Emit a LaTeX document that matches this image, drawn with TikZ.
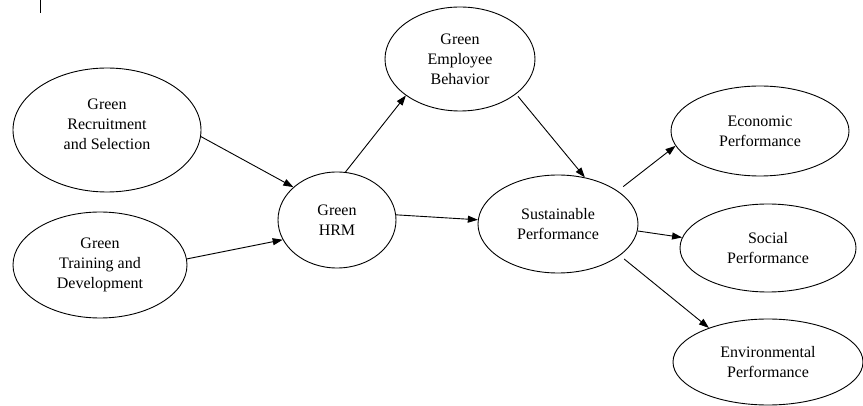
\documentclass[tikz,border=0pt]{standalone}
\usepackage{fontspec}
\setmainfont{Liberation Serif}
\usetikzlibrary{shapes.geometric,arrows.meta}
\begin{document}
\begin{tikzpicture}[x=1pt,y=-1pt,
  oval/.style={ellipse,draw,line width=0.9pt,inner sep=0pt,align=center,
    font=\fontsize{16}{20}\selectfont},
  txt/.style={inner sep=0pt,align=center,font=\fontsize{16}{20}\selectfont},
  link/.style={-{Triangle[length=10pt,width=7pt]},line width=0.9pt}]
\useasboundingbox (0,0) rectangle (863,406);
\node[oval,minimum width=188pt,minimum height=124pt] (grs) at (107,130) {};
\node[txt] (grstext) at (107,124) {Green\\Recruitment\\and Selection};
\node[oval,minimum width=174pt,minimum height=106pt] (gtd) at (100,265) {Green\\Training and\\Development};
\node[oval,minimum width=118pt,minimum height=96pt] (hrm) at (337,220) {Green\\HRM};
\node[oval,minimum width=150pt,minimum height=104pt] (geb) at (460,59) {Green\\Employee\\Behavior};
\node[oval,minimum width=160pt,minimum height=98pt] (sp) at (558,224) {Sustainable\\Performance};
\node[oval,minimum width=178pt,minimum height=90pt] (eco) at (760,131) {Economic\\Performance};
\node[oval,minimum width=176pt,minimum height=88pt] (soc) at (768,248) {Social\\Performance};
\node[oval,minimum width=190pt,minimum height=86pt] (env) at (768,362) {Environmental\\Performance};
\coordinate (m1) at (40.5,0);
\coordinate (m2) at (40.5,13);
\draw[line width=0.9pt] (m1) -- (m2);
\draw[link] (grs.-4) -- (hrm.143);
\draw[link] (gtd.4.5) -- (hrm.200);
\draw[link] (hrm.80.5) -- (geb.214.6);
\draw[link,shorten <=3pt] (geb.-32) -- (sp.60);
\draw[link] (hrm.5.7) -- (sp.177.8);
\draw[link,shorten <=7pt] (sp.29.2) -- (eco.190);
\draw[link] (sp.-5.6) -- (soc.173.2);
\draw[link,shorten <=5.5pt] (sp.-27.5) -- (env.150);
\end{tikzpicture}
\end{document}
